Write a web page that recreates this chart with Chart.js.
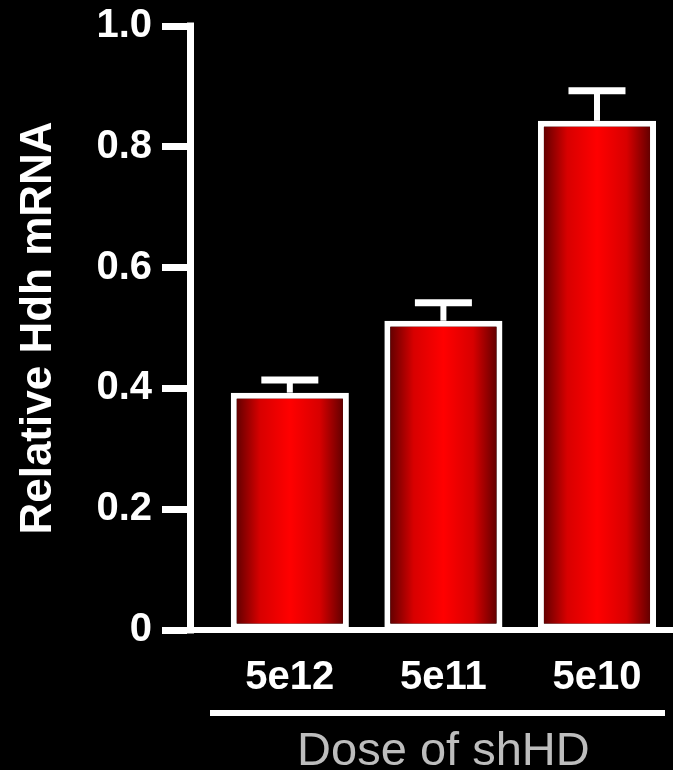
<!DOCTYPE html>
<html>
<head>
<meta charset="utf-8">
<script src="https://cdn.jsdelivr.net/npm/chart.js@4/dist/chart.umd.min.js"></script>
<style>
  html, body { margin: 0; padding: 0; background: #000; }
  #wrap { width: 673px; height: 770px; position: relative; }
</style>
</head>
<body>
<div id="wrap"><canvas id="c"></canvas></div>
<script>
// Hdh knockdown by shHD dose
const doses = ['5e12', '5e11', '5e10'];
const relHdh = [0.393, 0.512, 0.843];
const relHdhSem = [0.021, 0.030, 0.050];
const yTickLabels = ['0', '0.2', '0.4', '0.6', '0.8', '1.0'];
const yTitle = 'Relative Hdh mRNA';
const xTitle = 'Dose of shHD';

const FONT = "Arial, 'Liberation Sans', Helvetica, sans-serif";
const BAR_PCT = 0.769;
const BAR_BORDER = 6;

// horizontal dark-bright-dark red shading for each bar
function barGradient(ctx) {
  if (ctx.type !== 'data') return '#ff0000';
  const xs = ctx.chart.scales.x;
  if (!xs) return '#ff0000';
  const c = xs.getPixelForValue(ctx.dataIndex);
  const unit = xs.getPixelForValue(1) - xs.getPixelForValue(0);
  const half = unit * BAR_PCT / 2 - BAR_BORDER;
  if (!isFinite(c) || !isFinite(half) || half <= 0) return '#ff0000';
  const g = ctx.chart.ctx.createLinearGradient(c - half, 0, c + half, 0);
  g.addColorStop(0, '#650000');
  g.addColorStop(0.22, '#d80000');
  g.addColorStop(0.5, '#ff0000');
  g.addColorStop(0.78, '#d80000');
  g.addColorStop(1, '#650000');
  return g;
}

// SEM whiskers, square axis corners, underline and x title
const decorations = {
  id: 'decorations',
  afterDatasetsDraw(chart) {
    const ctx = chart.ctx;
    const ys = chart.scales.y;
    const meta = chart.getDatasetMeta(0);
    ctx.save();
    ctx.strokeStyle = '#ffffff';
    ctx.lineCap = 'butt';
    meta.data.forEach((bar, i) => {
      const top = ys.getPixelForValue(relHdh[i] + relHdhSem[i]);
      ctx.lineWidth = 6;
      ctx.beginPath();
      ctx.moveTo(bar.x, top);
      ctx.lineTo(bar.x, bar.y);
      ctx.stroke();
      ctx.lineWidth = 7;
      ctx.beginPath();
      ctx.moveTo(bar.x - 28.5, top);
      ctx.lineTo(bar.x + 28.5, top);
      ctx.stroke();
    });
    ctx.restore();
  },
  afterDraw(chart) {
    const ctx = chart.ctx;
    const a = chart.chartArea;
    const xs = chart.scales.x;
    ctx.save();
    // y axis line with square ends
    ctx.strokeStyle = '#ffffff';
    ctx.lineWidth = 7;
    ctx.lineCap = 'square';
    ctx.beginPath();
    ctx.moveTo(a.left + 0.5, a.top);
    ctx.lineTo(a.left + 0.5, a.bottom);
    ctx.stroke();
    // rule under the dose labels
    ctx.lineCap = 'butt';
    ctx.lineWidth = 6;
    ctx.beginPath();
    ctx.moveTo(210, 713);
    ctx.lineTo(665, 713);
    ctx.stroke();
    // x axis title
    ctx.fillStyle = '#bdbdbd';
    ctx.font = '47px ' + FONT;
    ctx.textAlign = 'center';
    ctx.textBaseline = 'alphabetic';
    ctx.fillText(xTitle, xs.getPixelForValue(1), 765);
    ctx.restore();
  }
};

new Chart(document.getElementById('c'), {
  type: 'bar',
  data: {
    datasets: [{
      data: doses.map((d, i) => ({ x: i, y: relHdh[i] })),
      backgroundColor: barGradient,
      borderColor: '#ffffff',
      borderWidth: BAR_BORDER,
      borderSkipped: false,
      barPercentage: BAR_PCT,
      categoryPercentage: 1
    }]
  },
  options: {
    responsive: true,
    maintainAspectRatio: false,
    animation: false,
    layout: { padding: { top: 26, left: 0, right: 0, bottom: 0 } },
    plugins: { legend: { display: false }, tooltip: { enabled: false } },
    scales: {
      x: {
        type: 'linear',
        bounds: 'data',
        offset: false,
        min: -0.65,
        max: 2.495,
        afterFit(s) { s.height = 140; s.paddingLeft = 0; s.paddingRight = 0; },
        // one tick per dose group
        afterBuildTicks(s) { s.ticks = doses.map((d, i) => ({ value: i })); },
        grid: { display: false, offset: false },
        border: { display: true, color: '#ffffff', width: 6 },
        ticks: {
          autoSkip: false,
          maxRotation: 0,
          padding: 16,
          color: '#ffffff',
          font: { family: FONT, size: 40, weight: 'bold' },
          callback: (v) => doses[Math.round(v)]
        }
      },
      y: {
        min: 0,
        max: 1,
        afterFit(s) { s.width = 190; s.paddingTop = 0; s.paddingBottom = 0; },
        grid: {
          display: true,
          drawOnChartArea: false,
          drawTicks: true,
          tickLength: 28,
          tickWidth: 7,
          tickColor: '#ffffff',
          color: '#ffffff'
        },
        border: { display: true, color: '#ffffff', width: 7 },
        ticks: {
          stepSize: 0.2,
          padding: 10,
          color: '#ffffff',
          font: { family: FONT, size: 40, weight: 'bold' },
          callback: (v) => yTickLabels[Math.round(v / 0.2)]
        },
        title: {
          display: true,
          text: yTitle,
          color: '#ffffff',
          font: { family: FONT, size: 44, weight: 'bold' },
          padding: { top: 12, bottom: 0 }
        }
      }
    }
  },
  plugins: [decorations]
});
</script>
</body>
</html>
